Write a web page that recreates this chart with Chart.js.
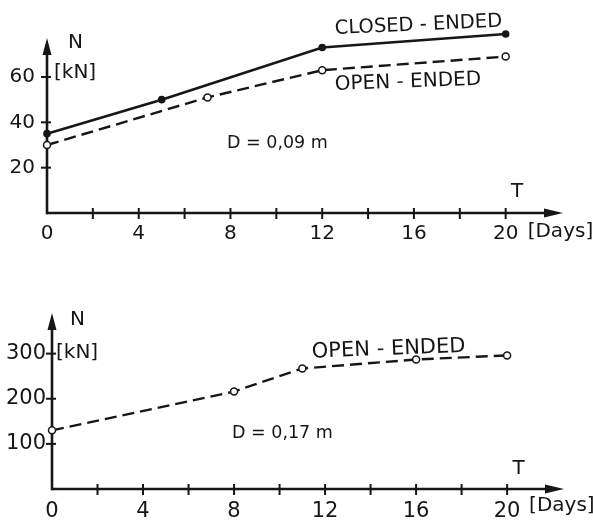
<!DOCTYPE html>
<html><head><meta charset="utf-8">
<script src="https://cdn.jsdelivr.net/npm/chart.js@4"></script>
<style>
html,body{margin:0;padding:0;background:#fff;}
#wrap{position:relative;width:593px;height:524px;overflow:hidden;}
.box{position:absolute;left:0;width:593px;height:262px;}
</style></head><body>
<div id="wrap">
<div class="box" style="top:0"><canvas id="c1" width="593" height="262"></canvas></div>
<div class="box" style="top:262px"><canvas id="c2" width="593" height="262"></canvas></div>
</div>
<script>
// ---- data ----
const daysClosed09 = [0, 5, 12, 20];
const loadClosed09 = [35, 50, 73, 79];
const daysOpen09 = [0, 7, 12, 20];
const loadOpen09 = [30, 51, 63, 69];
const daysOpen17 = [0, 8, 11, 16, 20];
const loadOpen17 = [130, 216, 267, 287, 296];
const xTickValues = [0, 2, 4, 6, 8, 10, 12, 14, 16, 18, 20];
const xTickLabels = [0, 4, 8, 12, 16, 20];
const yTicks09 = [20, 40, 60];
const yTicks17 = [100, 200, 300];

const INK = '#161616';
const FAMILY = '"DejaVu Sans", "Liberation Sans", sans-serif';

function pts(xs, ys) { return xs.map((v, i) => ({ x: v, y: ys[i] })); }

const sketchPlugin = {
  id: 'sketch',
  beforeDatasetsDraw(chart, args, o) {
    const { ctx, chartArea: a, scales: { x, y } } = chart;
    const x0 = x.getPixelForValue(0), y0 = y.getPixelForValue(0);
    const yTop = y.getPixelForValue(o.axisTop);
    ctx.save();
    ctx.strokeStyle = INK; ctx.fillStyle = INK; ctx.lineCap = 'butt';
    ctx.lineWidth = 2.6;
    ctx.beginPath(); ctx.moveTo(x0, y0); ctx.lineTo(a.right - 12, y0); ctx.stroke();
    ctx.beginPath(); ctx.moveTo(a.right, y0); ctx.lineTo(a.right - 19, y0 - 4.5); ctx.lineTo(a.right - 19, y0 + 4.5); ctx.closePath(); ctx.fill();
    ctx.beginPath(); ctx.moveTo(x0, y0 + 1.3); ctx.lineTo(x0, yTop + 12); ctx.stroke();
    ctx.beginPath(); ctx.moveTo(x0, yTop); ctx.lineTo(x0 - 4.5, yTop + 17); ctx.lineTo(x0 + 4.5, yTop + 17); ctx.closePath(); ctx.fill();
    ctx.lineWidth = 2;
    xTickValues.forEach(v => {
      if (v === 0) return;
      const px = x.getPixelForValue(v);
      ctx.beginPath(); ctx.moveTo(px, y0 - 5); ctx.lineTo(px, y0 + 6); ctx.stroke();
    });
    o.yTicks.forEach(v => {
      const py = y.getPixelForValue(v);
      ctx.beginPath(); ctx.moveTo(x0 - 6, py); ctx.lineTo(x0 + 4, py); ctx.stroke();
    });
    ctx.restore();
  },
  afterDraw(chart, args, o) {
    const { ctx, scales: { x, y } } = chart;
    const x0 = x.getPixelForValue(0), y0 = y.getPixelForValue(0);
    const yTop = y.getPixelForValue(o.axisTop);
    ctx.save();
    ctx.fillStyle = INK; ctx.textBaseline = 'alphabetic'; ctx.textAlign = 'left';
    o.notes.forEach(n => {
      ctx.save();
      ctx.font = n.size + 'px ' + FAMILY;
      ctx.translate(x.getPixelForValue(n.x), y.getPixelForValue(n.y));
      ctx.rotate((n.rot || 0) * Math.PI / 180);
      ctx.fillText(n.text, 0, 0);
      ctx.restore();
    });
    // axis titles
    ctx.font = '20px ' + FAMILY;
    ctx.fillText('N', x0 + o.nDx, yTop + o.nDy);
    ctx.font = '20px ' + FAMILY;
    ctx.fillText('[kN]', x0 + o.kDx, yTop + o.kDy);
    ctx.textAlign = 'center';
    ctx.fillText('T', x.getPixelForValue(20.5), y0 - o.tDy);
    ctx.textAlign = 'left';
    ctx.fillText('[Days]', x.getPixelForValue(20) + 22, y0 + o.dDy);
    ctx.restore();
  }
};

function makeChart(id, datasets, cfg) {
  return new Chart(document.getElementById(id), {
    type: 'line',
    data: { datasets },
    plugins: [sketchPlugin],
    options: {
      responsive: false, animation: false, devicePixelRatio: 1,
      layout: { padding: { left: 0, top: cfg.top, right: cfg.right, bottom: 0 } },
      plugins: { legend: { display: false }, tooltip: { enabled: false }, sketch: cfg.sketch },
      scales: {
        x: {
          type: 'linear', min: 0, max: 22.5,
          grid: { display: false, drawTicks: false }, border: { display: false },
          afterBuildTicks: s => { s.ticks = xTickValues.map(v => ({ value: v })); },
          afterFit: s => { s.height = cfg.xh; },
          ticks: {
            autoSkip: false, maxRotation: 0, padding: cfg.xpad, color: INK,
            font: { family: FAMILY, size: cfg.tickSize },
            callback: v => xTickLabels.includes(v) ? String(v) : ''
          }
        },
        y: {
          type: 'linear', min: 0, max: cfg.ymax,
          grid: { display: false, drawTicks: false }, border: { display: false },
          afterBuildTicks: s => { s.ticks = cfg.sketch.yTicks.map(v => ({ value: v })); },
          afterFit: s => { s.width = cfg.yw; },
          ticks: { padding: cfg.ypad, color: INK, font: { family: FAMILY, size: cfg.tickSize } }
        }
      }
    }
  });
}

const closedStyle = {
  borderColor: INK, borderWidth: 2.6, tension: 0, clip: false,
  pointRadius: 3.8, pointBackgroundColor: INK, pointBorderColor: INK, pointBorderWidth: 0
};
const openStyle = {
  borderColor: INK, borderWidth: 2.4, borderDash: [12, 6], tension: 0, clip: false,
  pointRadius: 3.5, pointBackgroundColor: '#fff', pointBorderColor: INK, pointBorderWidth: 1.5
};

makeChart('c1', [
  Object.assign({ label: 'OPEN - ENDED', data: pts(daysOpen09, loadOpen09) }, openStyle),
  Object.assign({ label: 'CLOSED - ENDED', data: pts(daysClosed09, loadClosed09) }, closedStyle)
], {
  top: 29.4, right: 30, xh: 49, yw: 47, ymax: 81, xpad: 9, ypad: 12, tickSize: 20,
  sketch: {
    yTicks: yTicks09, axisTop: 77.2,
    nDx: 21, nDy: 10, kDx: 7, kDy: 40, tDy: 16, dDy: 24,
    notes: [
      { text: 'CLOSED - ENDED', x: 12.56, y: 79.0, rot: -2.5, size: 19.5 },
      { text: 'OPEN - ENDED', x: 12.56, y: 54.3, rot: -2, size: 20 },
      { text: 'D = 0,09 m', x: 7.85, y: 28.7, rot: 0, size: 17.5 }
    ]
  }
});

makeChart('c2', [
  Object.assign({ label: 'OPEN - ENDED', data: pts(daysOpen17, loadOpen17) }, openStyle)
], {
  top: 51, right: 29, xh: 35, yw: 52, ymax: 390, xpad: 10, ypad: 6, tickSize: 21,
  sketch: {
    yTicks: yTicks17, axisTop: 390,
    nDx: 18, nDy: 12, kDx: 4, kDy: 45, tDy: 15, dDy: 22,
    notes: [
      { text: 'OPEN - ENDED', x: 11.43, y: 291, rot: -2.2, size: 21 },
      { text: 'D = 0,17 m', x: 7.91, y: 112.5, rot: 0, size: 17.5 }
    ]
  }
});
</script>
</body></html>
